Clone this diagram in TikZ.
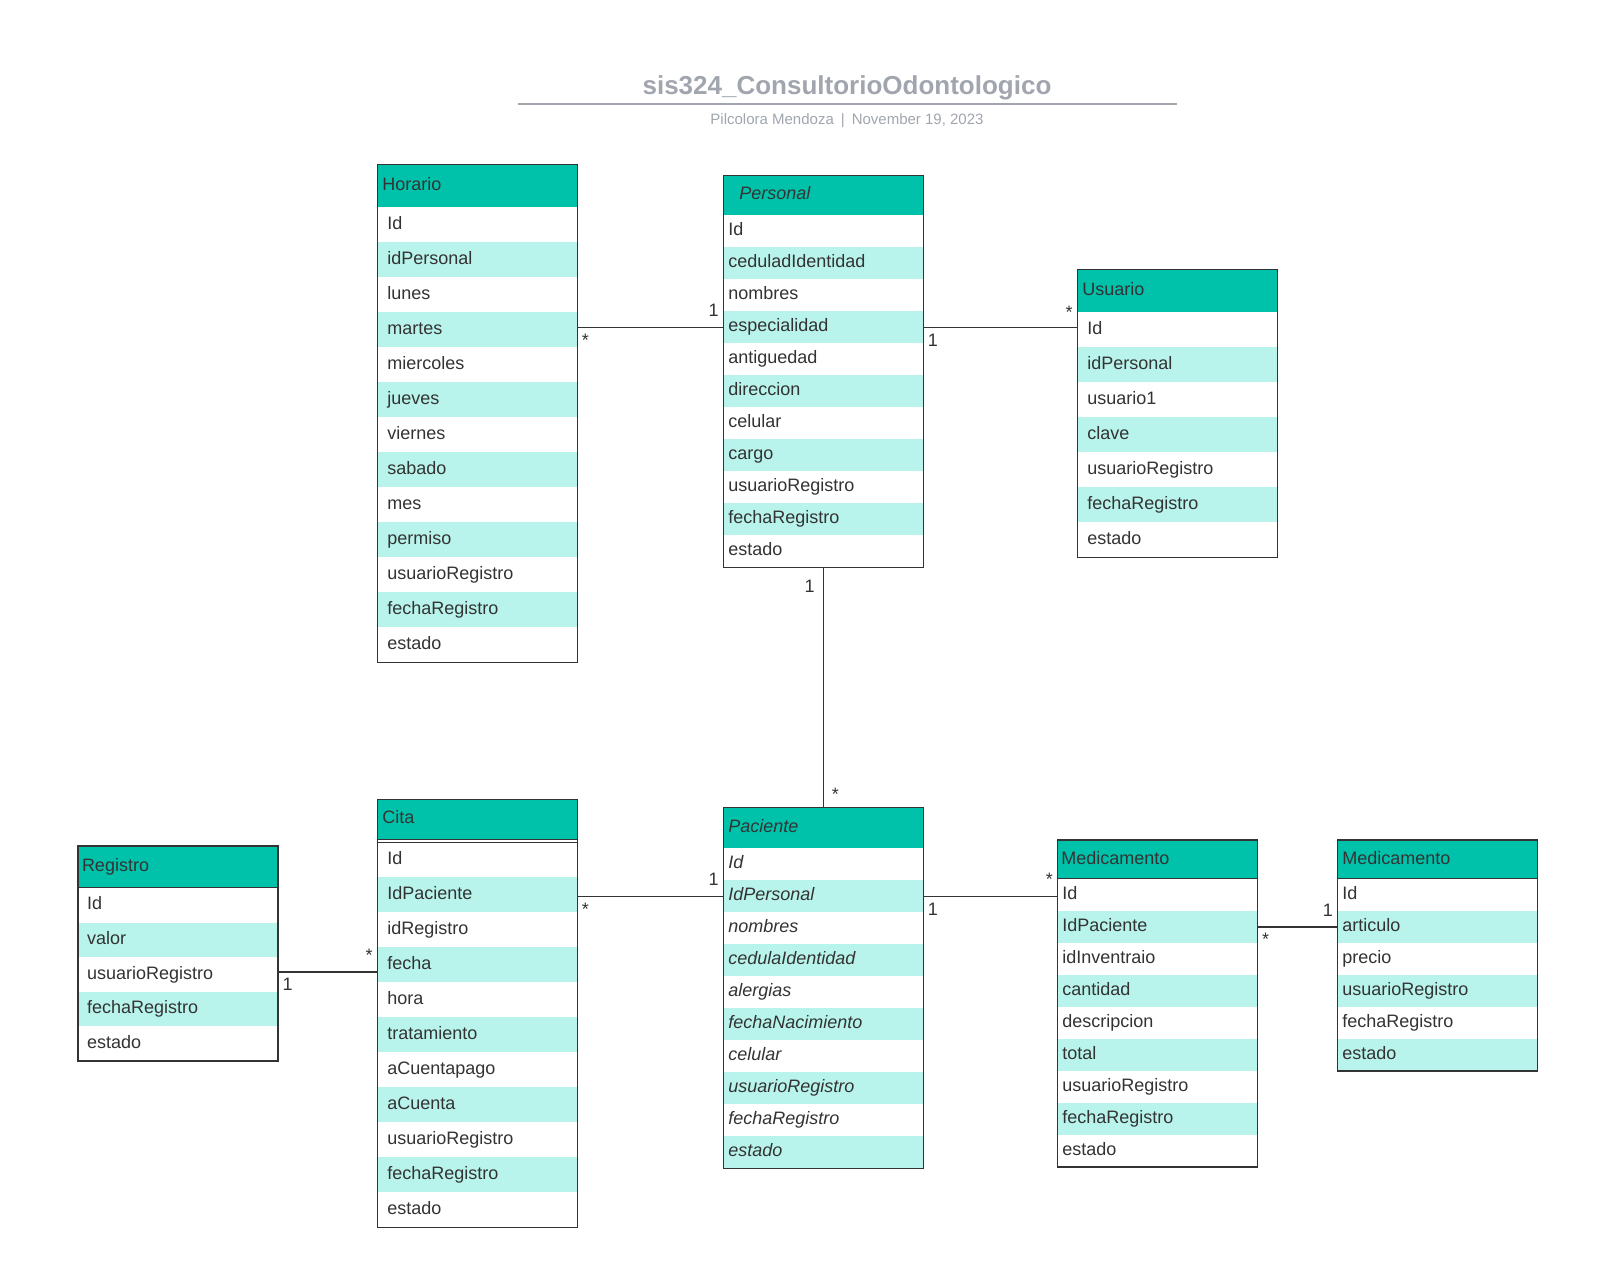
\documentclass[tikz,border=0pt]{standalone}
\usepackage{fontspec}
\setmainfont{Liberation Sans}
\usetikzlibrary{positioning}
\definecolor{HeadTeal}{RGB}{0,193,170}
\definecolor{RowMint}{RGB}{184,244,236}
\definecolor{BoxInk}{RGB}{51,51,51}
\definecolor{TitleGray}{RGB}{160,165,174}

% one table: name, top left, header height, row height, header style, header text, row style, fields
\newcommand{\erTable}[8]{%
  \node[hdr,minimum height=#3,#5] (#1) at (#2) {#6};
  \foreach \f [count=\i, evaluate=\i as \j using int(\i-1)] in {#8}{%
    \ifodd\i\def\rowfill{white}\else\def\rowfill{RowMint}\fi
    \ifnum\i=1 \def\prev{#1}\else\def\prev{#1-\j}\fi
    \node[field,minimum height=#4,fill=\rowfill,#7] (#1-\i) at (\prev.south west) {\f};
    \xdef\lastrow{\i}
  }
  \draw[box] (#1.north west) rectangle (#1-\lastrow.south east);
}

\begin{document}
\begin{tikzpicture}[x=1pt,y=-1pt,
    box/.style={draw=BoxInk,line width=1.2pt},
    hdr/.style={anchor=north west,draw=BoxInk,line width=1.2pt,fill=HeadTeal,outer sep=0pt,
      inner xsep=5pt,text width=190pt,align=left,inner ysep=0pt,
      text height=13pt,text depth=4pt,text=BoxInk,font=\fontsize{18}{21}\selectfont},
    hdrit/.style={inner xsep=16pt,text width=168pt,font=\fontsize{18}{21}\selectfont\itshape},
    field/.style={anchor=north west,outer sep=0pt,inner xsep=10pt,text width=180pt,align=left,
      inner ysep=0pt,text height=13pt,text depth=4pt,text=BoxInk,
      font=\fontsize{18}{21}\selectfont},
    near/.style={inner xsep=5pt,text width=190pt},
    conn/.style={draw=BoxInk,line width=1.2pt},
    mult/.style={inner xsep=4pt,inner ysep=6pt,text=BoxInk,font=\fontsize{18}{20}\selectfont}]
  \useasboundingbox (0,0) rectangle (1608,1265);

  % title block
  \node[text=TitleGray,font=\fontsize{26}{30}\selectfont\bfseries] (title) at (847,88)
    {sis324\_ConsultorioOdontologico};
  \draw[TitleGray,line width=2pt] (518,104) -- (1177,104);
  \node[text=TitleGray,font=\fontsize{15}{18}\selectfont] (byline) at (847,121)
    {Pilcolora Mendoza\hspace{7pt}|\hspace{7pt}November 19, 2023};

  % tables
  \erTable{horario}{377.3,164.3}{43pt}{35pt}{}{Horario}{}
    {Id,idPersonal,lunes,martes,miercoles,jueves,viernes,sabado,mes,permiso,usuarioRegistro,fechaRegistro,estado}
  \erTable{personal}{723.3,175.3}{40pt}{32pt}{hdrit}{Personal}{near}
    {Id,ceduladIdentidad,nombres,especialidad,antiguedad,direccion,celular,cargo,usuarioRegistro,fechaRegistro,estado}
  \erTable{usuario}{1077.3,269.3}{43pt}{35pt}{}{Usuario}{}
    {Id,idPersonal,usuario1,clave,usuarioRegistro,fechaRegistro,estado}
  \erTable{cita}{377.3,799.3}{43pt}{35pt}{}{\raisebox{1.5pt}{Cita}}{}
    {Id,IdPaciente,idRegistro,fecha,hora,tratamiento,aCuentapago,aCuenta,usuarioRegistro,fechaRegistro,estado}
  \draw[box,fill=white] ([yshift=3pt]cita.south west) rectangle (cita.south east);
  \erTable{paciente}{723.3,807.2}{41pt}{32pt}{font=\fontsize{18}{21}\selectfont\itshape}{Paciente}
    {near,font=\fontsize{18}{21}\selectfont\itshape}
    {Id,IdPersonal,nombres,cedulaIdentidad,alergias,fechaNacimiento,celular,usuarioRegistro,fechaRegistro,estado}
  \erTable{registro}{78,846}{42pt}{34.6pt}{inner xsep=4pt,text width=192pt}{Registro}{inner xsep=9pt,text width=182pt}
    {Id,valor,usuarioRegistro,fechaRegistro,estado}
  \erTable{medic}{1057.4,840}{39pt}{32pt}{inner xsep=4pt,text width=192pt}{Medicamento}{near}
    {Id,IdPaciente,idInventraio,cantidad,descripcion,total,usuarioRegistro,fechaRegistro,estado}
  \erTable{medicb}{1337.4,840}{39pt}{32pt}{}{Medicamento}{near}
    {Id,articulo,precio,usuarioRegistro,fechaRegistro,estado}

  % relations
  \draw[conn] (horario.east |- personal-4.west) -- (personal-4.west)
    node[mult,at start,below right]{*} node[mult,at end,above left,yshift=4pt]{1};
  \draw[conn] (personal-4.east) -- (personal-4.east -| usuario.west)
    node[mult,at start,below right]{1} node[mult,at end,above left,yshift=2pt]{*};
  \draw[conn] (personal-11.south) -- (paciente.north)
    node[mult,at start,below left,xshift=-4pt,yshift=-6pt]{1}
    node[mult,at end,above right,xshift=4pt]{*};
  \draw[conn] (cita.east |- paciente-2.west) -- (paciente-2.west)
    node[mult,at start,below right]{*} node[mult,at end,above left,yshift=4pt]{1};
  \draw[conn] (paciente-2.east) -- (paciente-2.east -| medic.west)
    node[mult,at start,below right]{1} node[mult,at end,above left,yshift=4pt]{*};
  \coordinate[yshift=2.5pt] (regLink) at (registro-3.east);
  \draw[conn] (regLink) -- (regLink -| cita.west)
    node[mult,at start,below right]{1} node[mult,at end,above left,yshift=4pt]{*};
  \draw[conn] (medic-2.east) -- (medic-2.east -| medicb.west)
    node[mult,at start,below right]{*} node[mult,at end,above left,yshift=4pt]{1};
\end{tikzpicture}
\end{document}
